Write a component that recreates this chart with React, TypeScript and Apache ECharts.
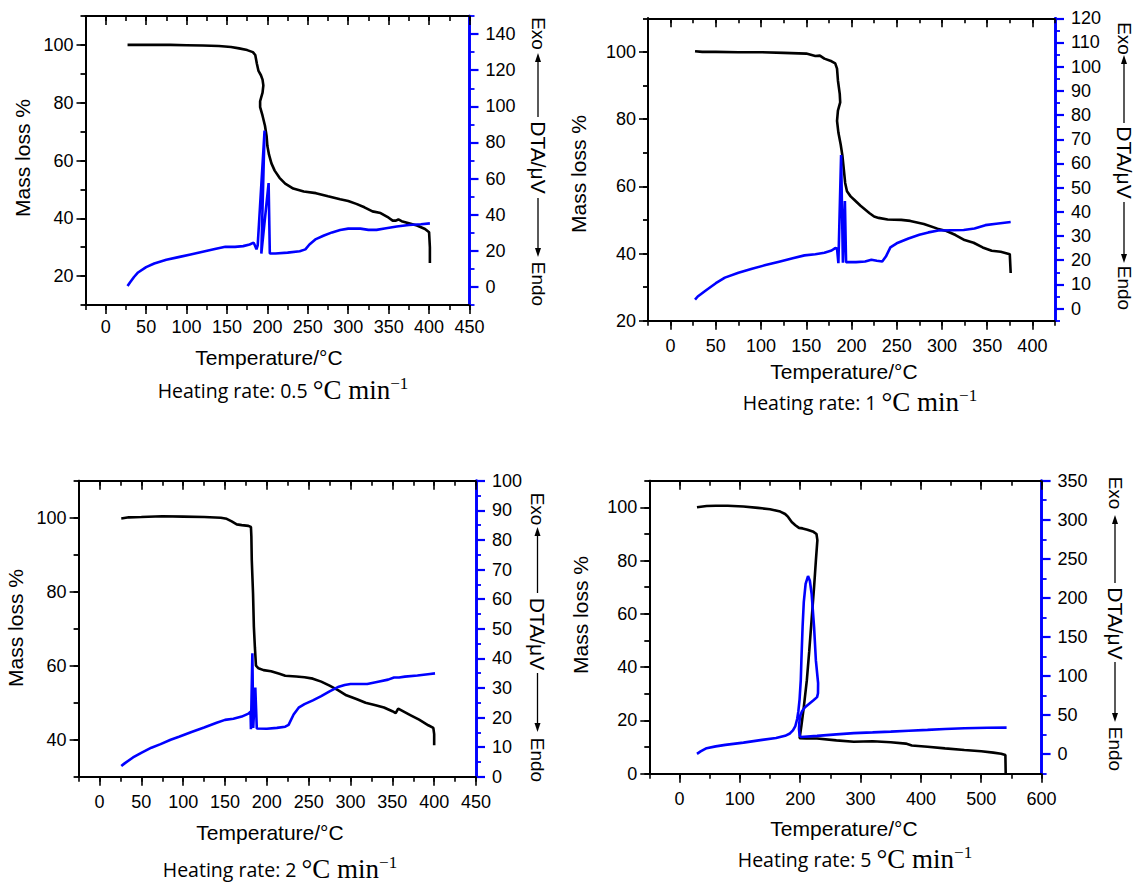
import React, { useEffect, useRef } from 'react';
import * as echarts from 'echarts';

// ---------- DATA (Temperature °C, value) ----------
const tg05 = [[27,100],[40,100],[60,100],[80,100],[100,99.9],[120,99.8],[140,99.6],[155,99.3],[165,98.8],[175,98.2],[182,97.5],[185,96.5],[187,93.5],[189,91],[192,89.5],[194,88],[195,86],[194,83.5],[191,80.5],[191,78.5],[194,75.5],[197,72],[199,68.5],[200,65],[202,62],[205,59],[209,56.5],[215,54],[222,52],[232,50.3],[245,49.3],[260,48.7],[275,47.6],[290,46.6],[300,46],[310,45],[320,43.8],[330,42.4],[340,41.8],[350,40.2],[355,39.2],[359,39.2],[362,39.6],[366,39],[375,38.3],[385,37.5],[395,36.3],[400,35.2],[401,30],[401,24.5]];
const dta05 = [[27,0.5],[30,2.5],[35,5.5],[40,8],[50,11],[60,13],[75,15],[90,16.5],[105,18],[120,19.5],[135,21],[148,22.2],[160,22.2],[170,22.6],[178,23.5],[183,24.5],[185,22.5],[186.5,20.8],[188,23],[196.5,86.5],[192.5,18.5],[201.5,57.5],[203,18.5],[210,18.5],[225,19],[240,19.8],[247,20.8],[252,23.5],[260,26.5],[270,28.5],[280,30.2],[290,31.5],[300,32.3],[315,32.3],[325,31.6],[335,31.6],[345,32.4],[360,33.5],[375,34.3],[390,34.7],[401,35.2]];

const tg1 = [[27,100.2],[35,100],[50,100],[75,99.9],[100,99.9],[125,99.7],[150,99.5],[160,98.8],[165,98.9],[170,98],[178,97.2],[182,96.6],[184,95],[185,91.5],[187,87.5],[187.5,85],[185,82.5],[184,79.5],[185.5,76],[188,72.5],[190,69],[191.5,65],[193,61],[195,58.5],[199,57],[203,56],[210,54.2],[220,52],[225,51],[230,50.6],[240,50.1],[255,50],[265,49.7],[280,48.8],[295,47.4],[305,46.7],[315,45.5],[325,44],[335,43.2],[345,41.8],[355,40.8],[365,40.5],[375,39.8],[376,34.2]];
const dta1 = [[27,3.7],[30,5],[40,7.8],[50,10.5],[60,12.8],[75,14.8],[90,16.5],[105,18],[120,19.4],[135,20.8],[148,22],[160,22.5],[170,23.1],[178,24],[182,25],[184,24.8],[185.5,18.8],[188.5,63.5],[190.5,19],[192.7,44.5],[194,19.2],[205,19.2],[215,19.5],[222,20.2],[228,19.8],[234,19.5],[238,21.5],[243,25.3],[250,27],[263,29],[275,30.5],[285,31.5],[296,32.3],[310,32.4],[324,32.5],[336,33.1],[348,34.5],[360,35.1],[376,35.8]];

const tg2 = [[26,99.8],[35,100.1],[50,100.2],[75,100.4],[100,100.3],[125,100.2],[145,100],[152,99.7],[158,99],[164,98.2],[170,98],[178,97.8],[181,97.5],[181.5,95],[182,88.5],[183.5,79.5],[184.5,70.5],[185.7,65],[187,60],[190,59.3],[196,58.8],[205,58.5],[215,57.8],[222,57.3],[235,57.1],[245,56.9],[255,56.5],[265,55.7],[275,54.6],[285,53.4],[295,52],[307,51],[318,50],[330,49.3],[340,48.7],[350,47.7],[354,47.2],[357,48.4],[362,47.8],[372,46.6],[382,45.4],[393,43.9],[399,43.2],[400,41.5],[400,38.5]];
const dta2 = [[26,3.6],[30,4.5],[40,6.5],[51,8.2],[62,9.8],[73,11],[85,12.5],[95,13.5],[110,15.1],[125,16.6],[140,18.2],[150,19.2],[160,19.6],[170,20.3],[178,21.3],[180.5,22],[181,16],[182.7,41.7],[183.7,16.5],[186.2,30.1],[188,16.3],[200,16.2],[212,16.5],[222,16.9],[226,17.5],[232,21],[238,23.3],[245,24.5],[255,25.8],[265,27.2],[275,28.8],[286,30.4],[293,31],[300,31.3],[310,31.3],[320,31.3],[333,32.1],[345,32.8],[352,33.5],[358,33.5],[365,33.8],[380,34.2],[395,34.7],[401,34.9]];

const tg5 = [[29,100],[45,100.5],[60,100.6],[80,100.6],[106,100.3],[130,99.8],[150,99.3],[167,98.4],[175,97.5],[180,96.4],[186,94.5],[192,93.3],[198,92.3],[204,92.1],[212,91.6],[222,90.8],[227,90],[228.5,87.7],[226,80],[223,70],[219,58],[215,46],[211,35],[206,25],[202,18],[199,13.3],[210,13.2],[228,13.2],[260,12.5],[289,12],[320,12.2],[350,11.8],[375,11.3],[385,10.6],[411,10.1],[440,9.5],[472,8.9],[500,8.4],[520,7.9],[533,7.5],[540,7],[540.5,0.3]];
const dta5 = [[29,0.4],[35,3.5],[45,7.7],[60,10],[76,11.9],[106,14.8],[137,18.3],[160,20.8],[175,23.5],[183,26.5],[188,30.5],[192,36],[195,45],[197,55],[199,70],[201,95],[202,120],[204,163],[206,195],[209,218],[213,228],[216,222],[219,205],[223,163],[226,120],[229.7,91],[229.5,78],[228,73],[222,69],[215,64.5],[208,60],[203,55],[200,49],[198.5,40],[198,32],[199,24],[201,22],[228,23.4],[260,25.3],[289,26.9],[320,27.9],[350,28.9],[380,30],[411,31.1],[440,32.2],[472,33.2],[510,33.8],[542,34]];

// tick labels
const xTicks1 = [0,50,100,150,200,250,300,350,400,450];
const xTicks2 = [0,50,100,150,200,250,300,350,400];
const xTicks3 = [0,50,100,150,200,250,300,350,400,450];
const xTicks4 = [0,100,200,300,400,500,600];
const mTicks1 = [20,40,60,80,100];
const mTicks2 = [20,40,60,80,100];
const mTicks3 = [40,60,80,100];
const mTicks4 = [0,20,40,60,80,100];
const dTicks1 = [0,20,40,60,80,100,120,140];
const dTicks2 = [0,10,20,30,40,50,60,70,80,90,100,110,120];
const dTicks3 = [0,10,20,30,40,50,60,70,80,90,100];
const dTicks4 = [0,50,100,150,200,250,300,350];
const rateLabels = ['0.5', '1', '2', '5'];

// ---------- LAYOUT ----------
const SANS = '"Liberation Sans", Arial, Helvetica, sans-serif';
const SERIF = '"Liberation Serif", "Times New Roman", serif';
const TSANS = '"Open Sans", "Noto Sans", sans-serif';

const panels = [
  { tg: tg05, dta: dta05, x: [-25, 450, 25], xMaj: xTicks1, m: [10, 110, 10], mMaj: mTicks1, d: [-10, 150, 10], dMaj: dTicks1,
    grid: { left: 85.5, top: 16, width: 384, height: 289 }, xMargin: 13,
    title: [283, 390], xName: [269, 357], yName: [22, 158], dl: { x: 538, exo: 33.5, t1: 53, l1: 117, dta: 157.5, l2: 198, t2: 257, endo: 284 } },
  { tg: tg1, dta: dta1, x: [-25, 425, 25], xMaj: xTicks2, m: [20, 110, 10], mMaj: mTicks2, d: [-5, 120, 5], dMaj: dTicks2,
    grid: { left: 648, top: 18.3, width: 407, height: 302.4 }, xMargin: 16,
    title: [860, 402], xName: [844, 371], yName: [578, 174], dl: { x: 1124, exo: 38.5, t1: 55, l1: 123, dta: 162.5, l2: 202, t2: 263, endo: 288 } },
  { tg: tg2, dta: dta2, x: [-25, 450, 25], xMaj: xTicks3, m: [30, 110, 10], mMaj: mTicks3, d: [0, 100, 5], dMaj: dTicks3,
    grid: { left: 78.6, top: 480.7, width: 397.4, height: 296 }, xMargin: 16,
    title: [280, 869], xName: [270, 832], yName: [15, 628], dl: { x: 537.5, exo: 509, t1: 527, l1: 593, dta: 634, l2: 673, t2: 732, endo: 760 } },
  { tg: tg5, dta: dta5, x: [-50, 600, 50], xMaj: xTicks4, m: [0, 110, 10], mMaj: mTicks4, d: [-25, 350, 25], dMaj: dTicks4,
    grid: { left: 649.3, top: 480.7, width: 392.3, height: 293 }, xMargin: 16,
    title: [855, 859], xName: [844, 828], yName: [580, 615], dl: { x: 1115, exo: 493, t1: 515, l1: 583, dta: 623.5, l2: 662, t2: 722, endo: 749 } },
];

const BLACK = '#000000';
const BLUE = '#0000ff';

function buildOption() {
  const grid: any[] = [];
  const xAxis: any[] = [];
  const yAxis: any[] = [];
  const series: any[] = [];
  const graphic: any[] = [];

  panels.forEach((p, gi) => {
    grid.push({ left: p.grid.left, top: p.grid.top, width: p.grid.width, height: p.grid.height, containLabel: false });
    const lbl = { fontSize: 18, fontFamily: SANS, color: BLACK };
    const xBase = (pos: string, inside: boolean) => ({
      gridIndex: gi, type: 'value', position: pos, min: p.x[0], max: p.x[1], interval: p.x[2],
      splitLine: { show: false },
      axisLine: { show: true, onZero: false, lineStyle: { color: BLACK, width: 2 } },
      axisTick: { show: true, inside, length: 5, lineStyle: { color: BLACK, width: 1.6 } },
      axisLabel: { show: false },
    });
    const xb = xAxis.length;
    xAxis.push(xBase('bottom', false));
    const xm = xBase('bottom', false) as any;
    xm.axisTick = { show: true, inside: false, length: 9, customValues: p.xMaj, lineStyle: { color: BLACK, width: 1.6 } };
    xm.axisLabel = { show: true, customValues: p.xMaj, margin: p.xMargin, ...lbl };
    xAxis.push(xm);
    xAxis.push(xBase('top', true));
    const xt = xBase('top', true) as any;
    xt.axisTick = { show: true, inside: true, length: 9, customValues: p.xMaj, lineStyle: { color: BLACK, width: 1.6 } };
    xAxis.push(xt);

    const yBase = (pos: string, r: number[], col: string, w: number) => ({
      gridIndex: gi, type: 'value', position: pos, min: r[0], max: r[1], interval: r[2],
      splitLine: { show: false },
      axisLine: { show: true, onZero: false, lineStyle: { color: col, width: w } },
      axisTick: { show: true, inside: false, length: 5, lineStyle: { color: col, width: 1.8 } },
      axisLabel: { show: false },
    });
    const yb = yAxis.length;
    yAxis.push(yBase('left', p.m, BLACK, 2));
    const ym = yBase('left', p.m, BLACK, 2) as any;
    ym.axisTick = { show: true, inside: false, length: 9, customValues: p.mMaj, lineStyle: { color: BLACK, width: 1.6 } };
    ym.axisLabel = { show: true, customValues: p.mMaj, margin: 12, ...lbl };
    yAxis.push(ym);
    yAxis.push(yBase('right', p.d, BLUE, 2.6));
    const yr = yBase('right', p.d, BLUE, 2.6) as any;
    yr.axisTick = { show: true, inside: false, length: 9, customValues: p.dMaj, lineStyle: { color: BLUE, width: 2.2 } };
    yr.axisLabel = { show: true, customValues: p.dMaj, margin: 16, ...lbl };
    yAxis.push(yr);

    series.push({
      type: 'line', xAxisIndex: xb + 1, yAxisIndex: yb + 1, data: p.tg, showSymbol: false, symbol: 'none',
      lineStyle: { color: BLACK, width: 2.6 }, itemStyle: { color: BLACK }, z: 3, clip: false,
    });
    series.push({
      type: 'line', xAxisIndex: xb + 1, yAxisIndex: yb + 3, data: p.dta, showSymbol: false, symbol: 'none',
      lineStyle: { color: BLUE, width: 2.6 }, itemStyle: { color: BLUE }, z: 4, clip: false,
    });

    // titles
    graphic.push({
      type: 'text', x: p.title[0], y: p.title[1], z: 10,
      style: {
        text: `{a|Heating rate: ${rateLabels[gi]} }{b|°C min}{c|−1}`,
        fontFamily: TSANS, fontSize: 19.5, fill: BLACK,
        align: 'center', verticalAlign: 'middle',
        rich: {
          a: { fontFamily: TSANS, fontSize: 19.5, fontWeight: 'normal', fill: BLACK, lineHeight: 30 },
          b: { fontFamily: SERIF, fontSize: 27, fill: BLACK, lineHeight: 30 },
          c: { fontFamily: SERIF, fontSize: 17, fill: BLACK, verticalAlign: 'top' },
        },
      },
    });
    graphic.push({
      type: 'text', x: p.xName[0], y: p.xName[1], z: 10,
      style: { text: 'Temperature/°C', fontFamily: SANS, fontSize: 21, fill: BLACK, align: 'center', verticalAlign: 'middle' },
    });
    graphic.push({
      type: 'text', x: p.yName[0], y: p.yName[1], rotation: Math.PI / 2, z: 10,
      style: { text: 'Mass loss %', fontFamily: SANS, fontSize: 21, fill: BLACK, align: 'center', verticalAlign: 'middle' },
    });
    const d = p.dl;
    const rot = -Math.PI / 2;
    graphic.push({ type: 'text', x: d.x, y: d.exo, rotation: rot, z: 10,
      style: { text: 'Exo', fontFamily: SANS, fontSize: 19, fill: BLACK, align: 'center', verticalAlign: 'middle' } });
    graphic.push({ type: 'line', z: 10, shape: { x1: d.x, y1: d.t1 + 6, x2: d.x, y2: d.l1 }, style: { stroke: BLACK, lineWidth: 1.3 } });
    graphic.push({ type: 'polygon', z: 10, shape: { points: [[d.x, d.t1], [d.x - 3, d.t1 + 9], [d.x + 3, d.t1 + 9]] }, style: { fill: BLACK } });
    graphic.push({ type: 'text', x: d.x, y: d.dta, rotation: rot, z: 10,
      style: { text: 'DTA/μV', fontFamily: SANS, fontSize: 21, fill: BLACK, align: 'center', verticalAlign: 'middle' } });
    graphic.push({ type: 'line', z: 10, shape: { x1: d.x, y1: d.l2, x2: d.x, y2: d.t2 - 6 }, style: { stroke: BLACK, lineWidth: 1.3 } });
    graphic.push({ type: 'polygon', z: 10, shape: { points: [[d.x, d.t2], [d.x - 3, d.t2 - 9], [d.x + 3, d.t2 - 9]] }, style: { fill: BLACK } });
    graphic.push({ type: 'text', x: d.x, y: d.endo, rotation: rot, z: 10,
      style: { text: 'Endo', fontFamily: SANS, fontSize: 19, fill: BLACK, align: 'center', verticalAlign: 'middle' } });
  });

  return {
    animation: false,
    backgroundColor: '#ffffff',
    grid, xAxis, yAxis, series, graphic,
  };
}

export default function App() {
  const ref = useRef<HTMLDivElement>(null);
  useEffect(() => {
    if (!ref.current) return;
    const chart = echarts.init(ref.current, undefined, { renderer: 'svg' });
    chart.setOption(buildOption() as any);
    return () => chart.dispose();
  }, []);
  return <div ref={ref} style={{ position: 'absolute', left: 0, top: 0, width: 1136, height: 883, background: '#fff' }} />;
}
